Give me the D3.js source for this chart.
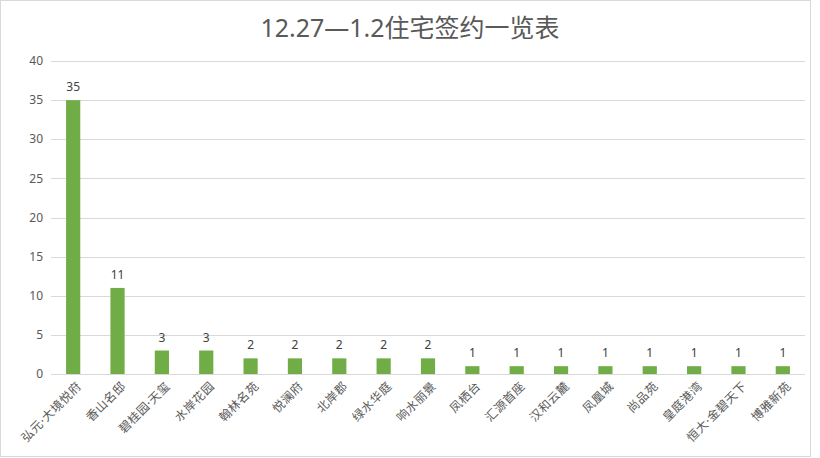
<!doctype html>
<meta charset="utf-8" />
<style>
    body { margin: 0; background: #fff; }
    text { font-family: "Noto Sans", "Noto Sans CJK SC", sans-serif; }
</style>
<svg></svg>
<script src="https://cdn.jsdelivr.net/npm/d3@7/dist/d3.min.js"></script>
<script>
    var names = ['弘元·大境悦府', '香山名邸', '碧桂园·天玺', '水岸花园', '翰林名苑', '悦澜府', '北岸郡',
        '绿水华庭', '响水丽景', '凤栖台', '汇源首座', '汉和云麓', '凤凰城', '尚品苑', '皇庭港湾',
        '恒大·金碧天下', '博雅新苑'];
    var counts = [35, 11, 3, 3, 2, 2, 2, 2, 2, 1, 1, 1, 1, 1, 1, 1, 1];
    var yTicks = [0, 5, 10, 15, 20, 25, 30, 35, 40];

    var W = 820, H = 458;
    var svg = d3.select('svg').attr('width', W).attr('height', H);

    svg.append('rect')
        .attr('x', 0.5).attr('y', 0.5)
        .attr('width', 810).attr('height', 456)
        .style('fill', 'white')
        .style('stroke', '#d9d9d9');

    var x = d3.scaleBand().domain(names).range([51, 805]).paddingInner(0.68).paddingOuter(0.34);
    var y = d3.scaleLinear().domain([0, 40]).range([374, 61]);

    // gridlines
    svg.append('g').selectAll('line').data(yTicks).join('line')
        .attr('x1', 51).attr('x2', 805)
        .attr('y1', d => Math.round(y(d)) + 0.5).attr('y2', d => Math.round(y(d)) + 0.5)
        .style('stroke', '#d9d9d9');

    svg.append('g').selectAll('text').data(yTicks).join('text')
        .attr('x', 43).attr('y', d => y(d))
        .attr('dy', '0.35em')
        .attr('text-anchor', 'end')
        .style('font-size', '12px').style('fill', '#595959')
        .text(d => d);

    svg.append('g').selectAll('rect').data(counts).join('rect')
        .attr('x', (d, i) => x(names[i]))
        .attr('width', x.bandwidth())
        .attr('y', d => y(d))
        .attr('height', d => y(0) - y(d))
        .style('fill', '#70ad47');

    svg.append('g').selectAll('text').data(counts).join('text')
        .attr('x', (d, i) => x(names[i]) + x.bandwidth() / 2)
        .attr('y', d => y(d) - 9)
        .attr('text-anchor', 'middle')
        .style('font-size', '12px').style('fill', '#404040')
        .text(d => d);

    svg.append('g').selectAll('text').data(names).join('text')
        .attr('transform', d => 'translate(' + (x(d) + x.bandwidth() / 2 + 6) + ',384) rotate(-45)')
        .attr('text-anchor', 'end')
        .attr('dy', '0.35em')
        .style('font-size', '12px').style('fill', '#595959')
        .style('letter-spacing', '0.5px')
        .text(d => d);

    svg.append('text')
        .attr('x', 410).attr('y', 37)
        .attr('text-anchor', 'middle')
        .style('font-size', '25px').style('fill', '#595959')
        .text('12.27—1.2住宅签约一览表');
</script>
